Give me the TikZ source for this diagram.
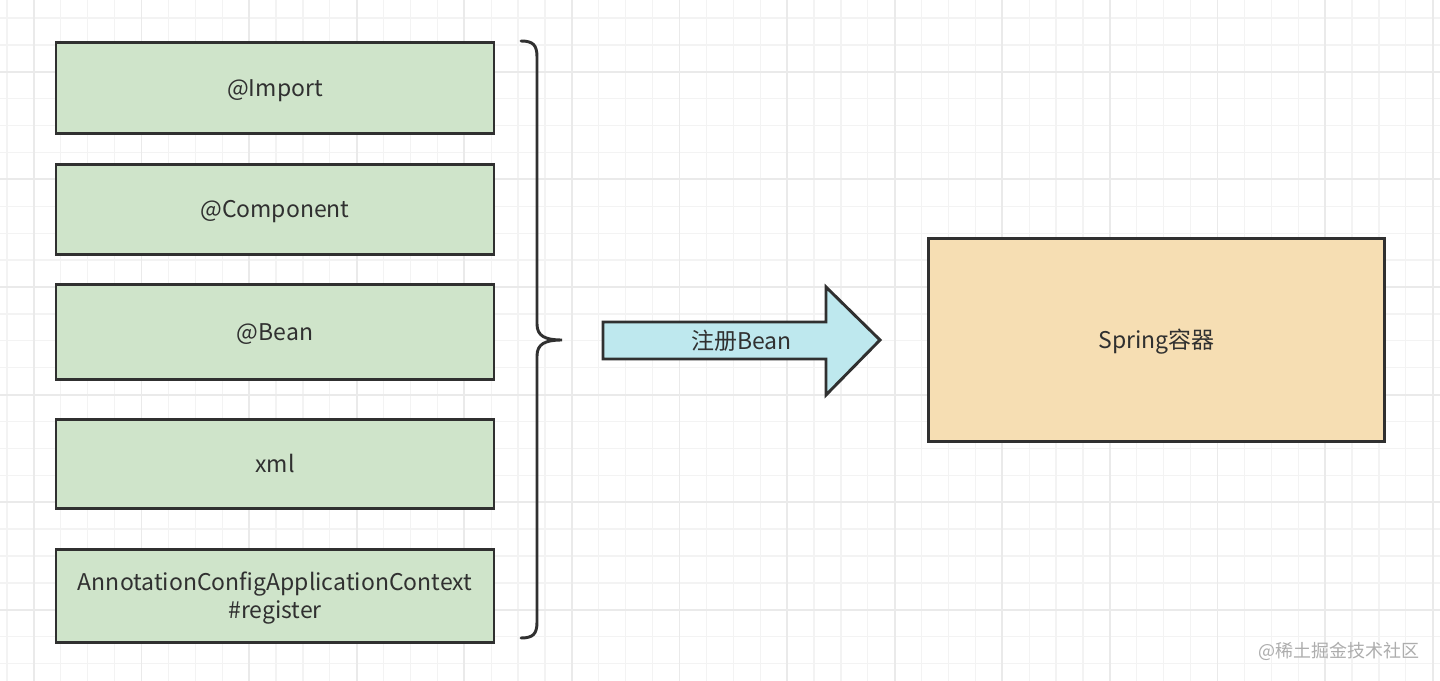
\documentclass[tikz,border=0pt]{standalone}
\usepackage{fontspec}
\usepackage{tikz}
\usetikzlibrary{calc}
\newfontfamily\cjk{Noto Sans CJK SC}
\definecolor{gridminor}{HTML}{F3F3F3}
\definecolor{gridmajor}{HTML}{EAEAEA}
\definecolor{boxgreen}{HTML}{CFE4CA}
\definecolor{boxorange}{HTML}{F6DEB3}
\definecolor{arrowblue}{HTML}{BEE8EE}
\definecolor{edge}{HTML}{303030}
\definecolor{marktext}{HTML}{ADADAD}

\begin{document}
\begin{tikzpicture}[x=0.75pt, y=-0.75pt]

        \pgfmathsetmacro{\g}{26.9}

        % Looks of the boxes, the brace and the block arrow
        \tikzset{
            label/.style={text=edge, align=center, inner sep=0pt,
                text height=13.5pt, text depth=1pt,
                font=\cjk\fontsize{17.25}{21}\selectfont},
            srcbox/.style={label, draw=edge, line width=2.2pt, fill=boxgreen,
                minimum width=328.5pt},
            destbox/.style={label, draw=edge, line width=2.2pt, fill=boxorange},
            brace/.style={draw=edge, line width=2.2pt, line cap=round},
            blockarrow/.style={draw=edge, line width=2.2pt, fill=arrowblue},
            watermark/.style={text=marktext, inner sep=0pt,
                font=\cjk\fontsize{13.5}{16}\selectfont}
        }

        % Page size and white paper
        \useasboundingbox (0, 0) rectangle (1440, 681);
        \fill[white] (0, 0) rectangle (1440, 681);

        % Grid paper, every fourth line a bit darker
        \begin{scope}
            \clip (0, 0) rectangle (1440, 681);
            \foreach \k in {0,...,53}
                \draw[gridminor, line width=1pt] ({7+\g*\k}, 0) -- ({7+\g*\k}, 681);
            \foreach \k in {0,...,24}
                \draw[gridminor, line width=1pt] (0, {18+\g*\k}) -- (1440, {18+\g*\k});
            \foreach \k in {1,5,...,53}
                \draw[gridmajor, line width=1.4pt] ({7+\g*\k}, 0) -- ({7+\g*\k}, 681);
            \foreach \k in {2,6,...,22}
                \draw[gridmajor, line width=1.4pt] (0, {18+\g*\k}) -- (1440, {18+\g*\k});
        \end{scope}

        % Ways of registering, stacked on the left
        \node[srcbox, minimum height=68.25pt] (imp) at (275, 88) {@Import};
        \node[srcbox, minimum height=67.5pt] (comp) at (275, 209.5) {@Component};
        \node[srcbox, minimum height=71.25pt] (bean) at (275, 332) {@Bean};
        \node[srcbox, minimum height=66.75pt] (xml) at (275, 464) {xml};
        \node[srcbox, minimum height=69.75pt, text height=34.5pt] (ctx) at (275, 596)
            {AnnotationConfigApplicationContext\\\#register};

        % Coordinates of the brace, top to bottom
        \coordinate (B1) at (521, 41);
        \coordinate (B2) at (537, 57);
        \coordinate (B3) at (537, 324);
        \coordinate (B4) at (562, 340);
        \coordinate (B5) at (537, 356);
        \coordinate (B6) at (537, 622);
        \coordinate (B7) at (521, 638);

        \draw[brace] (B1) .. controls (533, 41) and (537, 45) .. (B2) -- (B3)
            .. controls (537, 336) and (545, 340) .. (B4)
            .. controls (545, 340) and (537, 344) .. (B5) -- (B6)
            .. controls (537, 634) and (533, 638) .. (B7);

        % Coordinates of the block arrow, clockwise from the tail
        \coordinate (R1) at (603, 322);
        \coordinate (R2) at (826, 322);
        \coordinate (R3) at (826, 287);
        \coordinate (R4) at (880, 340);
        \coordinate (R5) at (826, 395);
        \coordinate (R6) at (826, 359);
        \coordinate (R7) at (603, 359);

        \draw[blockarrow] (R1) -- (R2) -- (R3) -- (R4) -- (R5)
            -- (R6) -- (R7) -- cycle;
        \node[label] (reg) at ($(R1)!0.5!(R4) + (0, 10)$) {注册Bean};

        % Container on the right
        \node[destbox, minimum width=342pt, minimum height=152.25pt]
            (spring) at (1156.5, 340) {Spring容器};

        \node[watermark] (mark) at (1339, 651) {@稀土掘金技术社区};

\end{tikzpicture}
\end{document}
